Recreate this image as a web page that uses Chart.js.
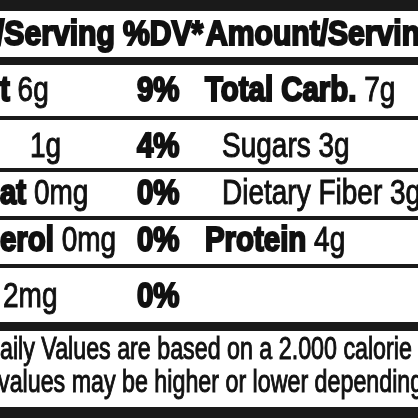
<!DOCTYPE html>
<html><head><meta charset="utf-8">
<script src="https://cdn.jsdelivr.net/npm/chart.js@4"></script>
<style>html,body{margin:0;padding:0;background:#fff}#c{width:418px;height:418px}</style>
</head><body><div id="c"><canvas id="label"></canvas></div>
<script>
// label content
const header = ['/Serving', '%DV*', 'Amount/Serving'];
const leftBold = ['t', '', 'at', 'erol', ''];
const leftAmount = [' 6g', '1g', ' 0mg', ' 0mg', '2mg'];
const dvValues = ['9%', '4%', '0%', '0%', '0%'];
const rightBold = ['Total Carb.', '', '', 'Protein', ''];
const rightAmount = [' 7g', 'Sugars 3g', 'Dietary Fiber 3g', ' 4g', ''];
const footnote = ['aily Values are based on a 2.000 calorie', 'values may be higher or lower depending'];

const rowY = [91, 147, 194, 241, 297];
const ruleY = [118, 170, 218, 266];

function txt(ctx, s, x, y, size, bold, sq) {
    ctx.save();
    ctx.font = (bold ? 'bold ' : '') + size + 'px "Liberation Sans", Arial, sans-serif';
    ctx.textBaseline = 'middle';
    ctx.translate(x, y);
    ctx.scale(sq, 1);
    ctx.fillText(s, 0, 0);
    ctx.lineWidth = bold ? 2.2 : 1;
    ctx.strokeStyle = ctx.fillStyle;
    ctx.strokeText(s, 0, 0);
    const w = ctx.measureText(s).width * sq;
    ctx.restore();
    return w;
}

const labelPlugin = {
    id: 'labelPlugin',
    afterDraw(chart) {
        const ctx = chart.ctx;
        const sx = chart.scales.x, sy = chart.scales.y;
        const X = v => sx.getPixelForValue(v), Y = v => sy.getPixelForValue(v);
        ctx.save();
        ctx.fillStyle = '#1a1a1a';
        ctx.fillRect(X(0), Y(0), X(418) - X(0), Y(11) - Y(0));
        ctx.fillRect(X(0), Y(57), X(418) - X(0), Y(65) - Y(57));
        ruleY.forEach(v => ctx.fillRect(X(0), Y(v - 2), X(418) - X(0), 4));
        ctx.fillRect(X(0), Y(322), X(418) - X(0), Y(331) - Y(322));
        ctx.fillRect(X(0), Y(407), X(418) - X(0), Y(418) - Y(407));

        ctx.fillStyle = '#111';
        txt(ctx, header[0], X(-4), Y(35), 35, true, 0.86);
        txt(ctx, header[1], X(123), Y(35), 35, true, 0.86);
        txt(ctx, header[2], X(206), Y(35), 35, true, 0.86);

        rowY.forEach((r, i) => {
            let x = X(leftBold[i] ? 0 : 30);
            if (leftBold[i]) x += txt(ctx, leftBold[i], x, Y(r), 35, true, 0.84);
            txt(ctx, leftAmount[i], leftBold[i] ? x : X(i === 4 ? 3 : 30), Y(r), 35, false, 0.8);
            txt(ctx, dvValues[i], X(137), Y(r), 35, true, 0.84);
            if (rightBold[i]) {
                const w = txt(ctx, rightBold[i], X(205), Y(r), 35, true, 0.84);
                txt(ctx, rightAmount[i], X(205) + w, Y(r), 35, false, 0.8);
            } else if (rightAmount[i]) {
                txt(ctx, rightAmount[i], X(222), Y(r), 35, false, 0.8);
            }
        });
        txt(ctx, footnote[0], X(0), Y(350), 31, false, 0.75);
        txt(ctx, footnote[1], X(-2), Y(383), 31, false, 0.75);
        ctx.restore();
    }
};

new Chart(document.getElementById('label'), {
    type: 'scatter',
    data: { datasets: [{ data: [] }] },
    options: {
        responsive: true,
        maintainAspectRatio: false,
        animation: false,
        layout: { padding: 0 },
        plugins: { legend: { display: false }, tooltip: { enabled: false } },
        scales: {
            x: { type: 'linear', min: 0, max: 418, display: false },
            y: { type: 'linear', min: 0, max: 418, reverse: true, display: false }
        }
    },
    plugins: [labelPlugin]
});
</script>
</body></html>
